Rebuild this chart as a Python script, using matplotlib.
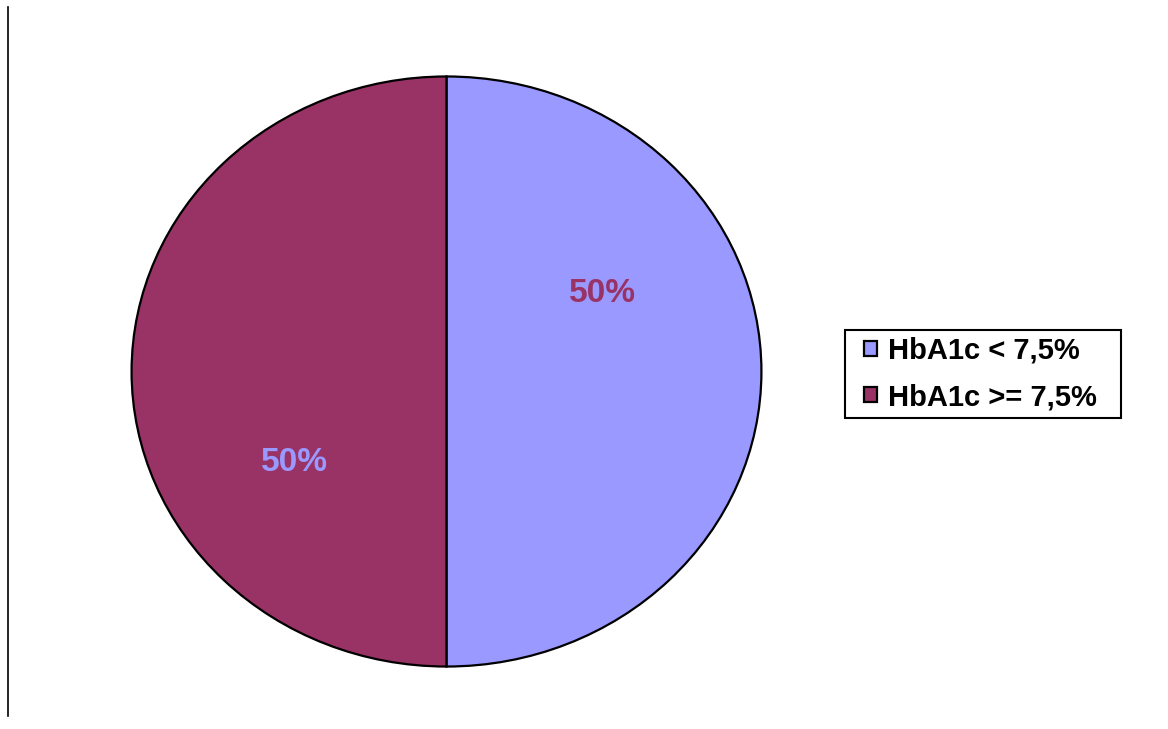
import matplotlib.pyplot as plt
from matplotlib.lines import Line2D
from matplotlib.patches import Rectangle

# Data
labels = ['HbA1c < 7,5%', 'HbA1c >= 7,5%']
values = [50, 50]
colors = ['#9999FF', '#993366']
label_colors = ['#993366', '#9999FF']

plt.rcParams['font.family'] = ['Liberation Sans', 'DejaVu Sans']

W, H = 1168, 729
fig = plt.figure(figsize=(W / 100, H / 100), dpi=100)
ax = fig.add_axes([130 / W, 61 / H, 633 / W, 593 / H])

wedges, texts, autotexts = ax.pie(
    values, colors=colors, startangle=90, counterclock=False,
    autopct='%1.0f%%', pctdistance=0.55,
    wedgeprops=dict(edgecolor='black', linewidth=1.6),
    textprops=dict(fontsize=24, fontweight='bold'),
)
ax.set_aspect('auto')
ax.set_xlim(-1.005, 1.005)
ax.set_ylim(-1.005, 1.005)

# Excel-style label placement
label_pos = [(0.494, 0.265), (-0.484, -0.31)]
for t, c, p in zip(autotexts, label_colors, label_pos):
    t.set_color(c)
    t.set_position(p)

leg = fig.legend(wedges, labels, loc='center left',
                 bbox_to_anchor=(857 / W, 0.487),
                 prop=dict(size=21, weight='bold'),
                 handlelength=0.45, handleheight=0.45, handletextpad=0.4,
                 labelspacing=0.62, borderpad=0.23, borderaxespad=0,
                 fancybox=False, frameon=False)

# legend frame drawn by hand so horizontal padding can differ from vertical
fig.canvas.draw()
ext = leg.get_window_extent()
x0, x1 = ext.x0 - 12, ext.x1 + 17
fig.add_artist(Rectangle((x0 / W, ext.y0 / H), (x1 - x0) / W, ext.height / H,
                         transform=fig.transFigure, facecolor='white',
                         edgecolor='black', linewidth=1.5, zorder=0))

# left border line
fig.add_artist(Line2D([7.5 / W, 7.5 / W], [1 - 7 / H, 1 - 716 / H],
                      color='black', linewidth=1.2))

fig.savefig('out.png', dpi=100)
